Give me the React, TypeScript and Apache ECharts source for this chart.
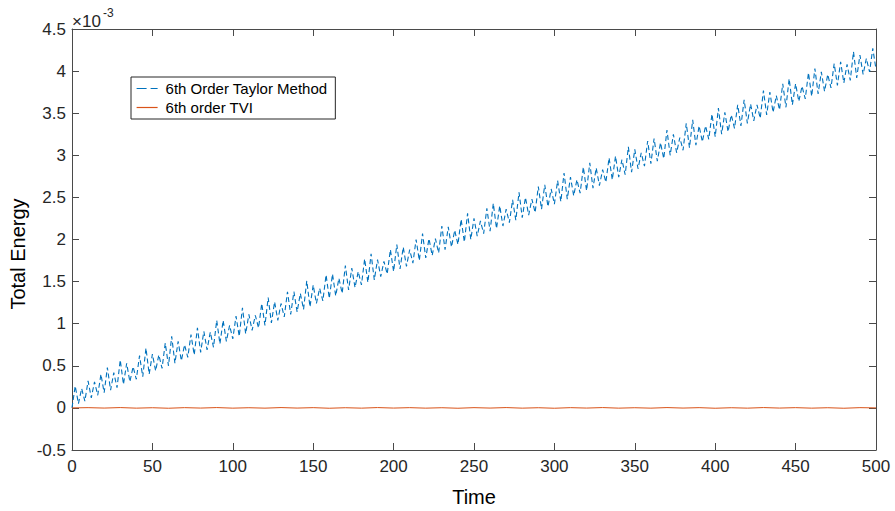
import React, { useEffect, useRef } from "react";
import * as echarts from "echarts";

// Total energy (×10^-3), 6th Order Taylor Method, sampled every 2 time units from t = 0 to t = 500
const taylorStep = 2;
const taylorEnergy = [
  0.00, 0.26, 0.05, 0.23, 0.08, 0.32, 0.12, 0.31, 0.15, 0.40,
  0.18, 0.48, 0.21, 0.42, 0.24, 0.57, 0.28, 0.53, 0.31, 0.49,
  0.34, 0.62, 0.37, 0.71, 0.40, 0.64, 0.44, 0.63, 0.47, 0.77,
  0.50, 0.85, 0.53, 0.79, 0.56, 0.75, 0.60, 0.87, 0.63, 0.95,
  0.66, 0.91, 0.69, 0.90, 0.72, 1.04, 0.76, 1.04, 0.79, 0.98,
  0.82, 1.09, 0.85, 1.19, 0.88, 1.11, 0.92, 1.10, 0.95, 1.24,
  0.98, 1.31, 1.01, 1.26, 1.04, 1.24, 1.08, 1.38, 1.11, 1.38,
  1.14, 1.36, 1.17, 1.51, 1.20, 1.46, 1.24, 1.42, 1.27, 1.58,
  1.30, 1.59, 1.33, 1.54, 1.36, 1.69, 1.40, 1.66, 1.43, 1.62,
  1.46, 1.77, 1.49, 1.83, 1.52, 1.76, 1.56, 1.74, 1.59, 1.88,
  1.62, 1.94, 1.65, 1.91, 1.68, 1.88, 1.72, 2.00, 1.75, 2.07,
  1.78, 2.01, 1.81, 2.01, 1.84, 2.16, 1.88, 2.15, 1.91, 2.11,
  1.94, 2.24, 1.97, 2.31, 2.00, 2.25, 2.04, 2.22, 2.07, 2.37,
  2.10, 2.43, 2.13, 2.40, 2.16, 2.36, 2.20, 2.47, 2.23, 2.56,
  2.26, 2.50, 2.29, 2.48, 2.32, 2.63, 2.36, 2.65, 2.39, 2.60,
  2.42, 2.70, 2.45, 2.79, 2.48, 2.74, 2.52, 2.71, 2.55, 2.86,
  2.58, 2.91, 2.61, 2.85, 2.64, 2.83, 2.68, 2.97, 2.71, 2.99,
  2.74, 2.95, 2.77, 3.10, 2.80, 3.07, 2.84, 3.03, 2.87, 3.17,
  2.90, 3.20, 2.93, 3.15, 2.96, 3.30, 3.00, 3.25, 3.03, 3.21,
  3.06, 3.38, 3.09, 3.42, 3.12, 3.35, 3.16, 3.35, 3.19, 3.49,
  3.22, 3.56, 3.25, 3.51, 3.28, 3.48, 3.32, 3.60, 3.35, 3.66,
  3.38, 3.61, 3.41, 3.60, 3.44, 3.77, 3.48, 3.75, 3.51, 3.71,
  3.54, 3.85, 3.57, 3.91, 3.60, 3.85, 3.64, 3.82, 3.67, 3.98,
  3.70, 4.03, 3.73, 3.99, 3.76, 3.96, 3.80, 4.09, 3.83, 4.11,
  3.86, 4.08, 3.89, 4.23, 3.92, 4.19, 3.96, 4.15, 3.99, 4.27,
  4.02,
];

// Total energy (×10^-3), 6th order TVI, sampled every 10 time units
const tviStep = 10;
const tviEnergy = [
  0.000, 0.003, -0.002, 0.004, -0.003, 0.002, -0.004, 0.003, -0.002, 0.004,
  -0.003, 0.002, -0.003, 0.004, -0.002, 0.003, -0.004, 0.002, -0.003, 0.004,
  -0.002, 0.003, -0.003, 0.002, -0.004, 0.003, -0.002, 0.004, -0.003, 0.002,
  -0.004, 0.003, -0.002, 0.004, -0.003, 0.002, -0.003, 0.004, -0.002, 0.003,
  -0.004, 0.002, -0.003, 0.004, -0.002, 0.003, -0.003, 0.002, -0.004, 0.003,
  0.000,
];

const seriesNames = ["6th Order Taylor Method", "6th order TVI"];
const xTicks = { min: 0, max: 500, interval: 50 };
const yTicks = { min: -0.5, max: 4.5, interval: 0.5 };
const xTitle = "Time";
const yTitle = "Total Energy";

const FONT = "'Liberation Sans', Arial, Helvetica, sans-serif";
const AXIS = "#4a4a4a";
const TEXT = "#262626";
const BLUE = "#0072BD";
const RED = "#D95319";

export default function App() {
  const ref = useRef<HTMLDivElement>(null);

  useEffect(() => {
    if (!ref.current) return;
    const chart = echarts.init(ref.current, undefined, { renderer: "svg" });

    const taylorData = taylorEnergy.map((v, i) => [i * taylorStep, v]);
    const tviData = tviEnergy.map((v, i) => [i * tviStep, v]);

    const axisBase = {
      type: "value" as const,
      splitLine: { show: false },
      axisLine: { show: true, onZero: false, lineStyle: { color: AXIS, width: 1 } },
      axisTick: { show: true, inside: true, length: 7, lineStyle: { color: AXIS, width: 1 } },
    };

    chart.setOption({
      animation: false,
      backgroundColor: "#ffffff",
      grid: { left: 72, right: 19, top: 29, bottom: 61, containLabel: false },
      xAxis: [
        {
          ...axisBase,
          position: "bottom",
          ...xTicks,
          axisLabel: { fontSize: 17, color: TEXT, fontFamily: FONT, margin: 8 },
        },
        {
          ...axisBase,
          position: "top",
          ...xTicks,
          axisLabel: { show: false },
        },
      ],
      yAxis: [
        {
          ...axisBase,
          position: "left",
          ...yTicks,
          axisLabel: { fontSize: 17, color: TEXT, fontFamily: FONT, margin: 6 },
        },
        {
          ...axisBase,
          position: "right",
          ...yTicks,
          axisLabel: { show: false },
        },
      ],
      legend: {
        orient: "vertical",
        left: 131,
        top: 77,
        backgroundColor: "#ffffff",
        borderColor: "#262626",
        borderWidth: 1,
        borderRadius: 0,
        padding: [4, 8, 4, 5],
        itemWidth: 21,
        itemHeight: 12,
        itemGap: 4,
        itemStyle: { opacity: 0 },
        textStyle: { fontSize: 15, color: "#000", fontFamily: FONT, padding: [0, 0, 0, 3] },
        data: [
          { name: seriesNames[0], lineStyle: { type: [10, 4], color: BLUE, width: 1.2 } },
          { name: seriesNames[1], lineStyle: { type: "solid", color: RED, width: 1.2 } },
        ],
      },
      graphic: [
        {
          type: "text",
          x: 72,
          y: 21,
          style: { text: "×10", fontSize: 17, fill: TEXT, fontFamily: FONT, align: "left", verticalAlign: "middle" },
        },
        {
          type: "text",
          x: 103,
          y: 13,
          style: { text: "-3", fontSize: 12, fill: TEXT, fontFamily: FONT, align: "left", verticalAlign: "middle" },
        },
        {
          type: "text",
          x: 474,
          y: 497,
          style: { text: xTitle, fontSize: 20, fill: "#000", fontFamily: FONT, align: "center", verticalAlign: "middle" },
        },
        {
          type: "text",
          x: 18,
          y: 254,
          rotation: Math.PI / 2,
          style: { text: yTitle, fontSize: 20, fill: "#000", fontFamily: FONT, align: "center", verticalAlign: "middle" },
        },
      ],
      series: [
        {
          name: seriesNames[0],
          type: "line",
          data: taylorData,
          symbol: "none",
          xAxisIndex: 0,
          yAxisIndex: 0,
          lineStyle: { color: BLUE, width: 1.1, type: [5, 3] },
          itemStyle: { color: BLUE },
        },
        {
          name: seriesNames[1],
          type: "line",
          data: tviData,
          symbol: "none",
          xAxisIndex: 0,
          yAxisIndex: 0,
          lineStyle: { color: RED, width: 1 },
          itemStyle: { color: RED },
        },
      ],
    });

    return () => chart.dispose();
  }, []);

  return <div ref={ref} style={{ width: 895, height: 511, position: "absolute", left: 0, top: 0 }} />;
}
